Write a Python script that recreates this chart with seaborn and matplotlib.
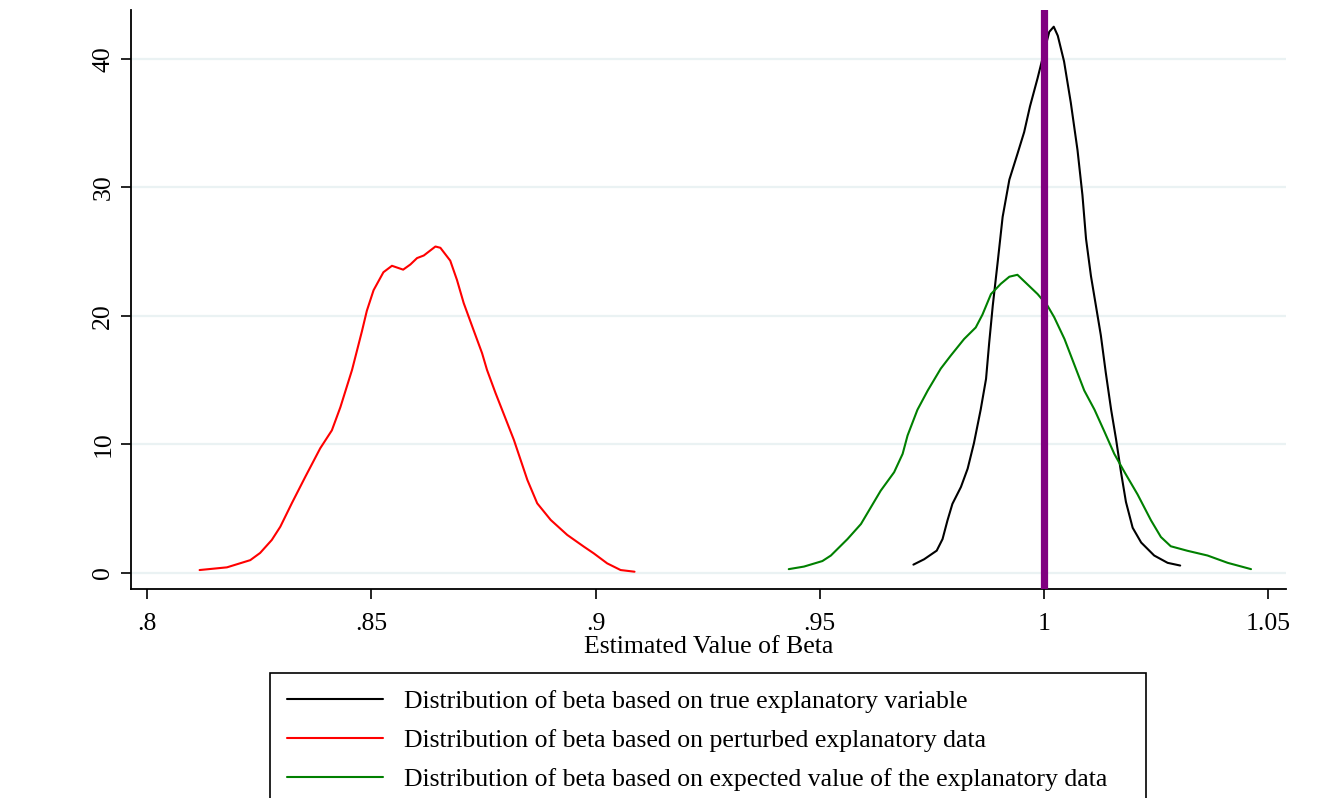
import numpy as np
import pandas as pd
import matplotlib
matplotlib.use("Agg")
import matplotlib.pyplot as plt
import seaborn as sns

sns.set_theme(style="white")
plt.rcParams['font.family'] = ['Liberation Serif', 'DejaVu Serif']

# Kernel density curves
true_x = [0.9709, 0.9733, 0.9761, 0.9774, 0.9785, 0.9796, 0.9815, 0.9830, 0.9844, 0.9859,
          0.9871, 0.9878, 0.9886, 0.9897, 0.9908, 0.9923, 0.9941, 0.9956, 0.9969, 0.9986,
          1.0001, 1.0012, 1.0022, 1.0031, 1.0045, 1.0060, 1.0075, 1.0086, 1.0094, 1.0105,
          1.0116, 1.0127, 1.0138, 1.0150, 1.0161, 1.0172, 1.0183, 1.0198, 1.0217, 1.0246,
          1.0276, 1.0304]
true_y = [0.65, 1.07, 1.74, 2.64, 4.09, 5.38, 6.69, 8.12, 10.1, 12.7,
          15.1, 17.9, 20.8, 24.2, 27.7, 30.6, 32.6, 34.3, 36.3, 38.5,
          40.6, 42.1, 42.5, 41.8, 39.8, 36.6, 32.9, 29.4, 26.0, 23.1,
          20.8, 18.5, 15.6, 12.7, 10.4, 7.84, 5.53, 3.52, 2.37, 1.36,
          0.79, 0.58]

pert_x = [0.8117, 0.8178, 0.8230, 0.8252, 0.8278, 0.8297, 0.8323, 0.8353, 0.8386, 0.8412,
          0.8431, 0.8457, 0.8479, 0.8490, 0.8505, 0.8527, 0.8546, 0.8571, 0.8587, 0.8602,
          0.8617, 0.8643, 0.8654, 0.8676, 0.8691, 0.8706, 0.8728, 0.8747, 0.8758, 0.8777,
          0.8795, 0.8818, 0.8848, 0.8870, 0.8900, 0.8937, 0.8974, 0.8996, 0.9026, 0.9056,
          0.9087]
pert_y = [0.23, 0.44, 1.0, 1.56, 2.57, 3.60, 5.45, 7.5, 9.7, 11.1,
          12.9, 15.8, 18.8, 20.4, 22.0, 23.4, 23.9, 23.6, 24.0, 24.5,
          24.7, 25.4, 25.3, 24.3, 22.8, 21.0, 18.9, 17.1, 15.8, 14.0,
          12.4, 10.35, 7.24, 5.42, 4.13, 2.96, 2.05, 1.53, 0.75, 0.23,
          0.10]

exp_x = [0.9431, 0.9465, 0.9506, 0.9525, 0.9562, 0.9592, 0.9636, 0.9666, 0.9685, 0.9696,
         0.9718, 0.9741, 0.9770, 0.9792, 0.9822, 0.9848, 0.9863, 0.9882, 0.9904, 0.9923,
         0.9941, 0.9956, 0.9986, 1.0008, 1.0023, 1.0046, 1.0068, 1.0090, 1.0113, 1.0135,
         1.0157, 1.0180, 1.0209, 1.0239, 1.0261, 1.0283, 1.0320, 1.0365, 1.0410, 1.0462]
exp_y = [0.30, 0.50, 0.93, 1.36, 2.64, 3.81, 6.40, 7.84, 9.27, 10.7,
         12.7, 14.2, 15.9, 16.9, 18.2, 19.1, 20.1, 21.7, 22.5, 23.05,
         23.2, 22.7, 21.7, 20.8, 19.9, 18.2, 16.2, 14.2, 12.7, 11.0,
         9.27, 7.84, 6.11, 4.09, 2.80, 2.08, 1.73, 1.36, 0.79, 0.30]

labels = ["Distribution of beta based on true explanatory variable",
          "Distribution of beta based on perturbed explanatory data",
          "Distribution of beta based on expected value of the explanatory data"]
colors = ["black", "#FF0000", "#008000"]
true_beta = 1.0

x_ticks = [0.8, 0.85, 0.9, 0.95, 1.0, 1.05]
x_tick_labels = [".8", ".85", ".9", ".95", "1", "1.05"]
y_ticks = [0, 10, 20, 30, 40]

df = pd.concat([
    pd.DataFrame({"beta": true_x, "density": true_y, "series": labels[0]}),
    pd.DataFrame({"beta": pert_x, "density": pert_y, "series": labels[1]}),
    pd.DataFrame({"beta": exp_x, "density": exp_y, "series": labels[2]}),
], ignore_index=True)

fig = plt.figure(figsize=(13.19, 7.98), dpi=100)
ax = fig.add_axes([131 / 1319, 209 / 798, 1155 / 1319, 579 / 798])

ax.yaxis.grid(True, color="#EAF2F3", linewidth=1.6)
ax.set_axisbelow(True)

sns.lineplot(data=df, x="beta", y="density", hue="series", hue_order=labels,
             palette=colors, estimator=None, sort=False, linewidth=1.5, ax=ax)
handles, labs = ax.get_legend_handles_labels()
ax.get_legend().remove()

ax.axvline(true_beta, color="#800080", linewidth=5.2, zorder=3)

ax.set_xlim(0.7964, 1.054)
ax.set_ylim(-1.245, 43.8)
ax.set_xticks(x_ticks)
ax.set_xticklabels(x_tick_labels)
ax.set_yticks(y_ticks)
ax.tick_params(axis="both", bottom=True, left=True, direction="out", length=7,
               width=1.2, color="black", labelsize=18.5, labelcolor="black")
ax.tick_params(axis="x", pad=10)
ax.tick_params(axis="y", pad=5)
for lab in ax.get_yticklabels():
    lab.set_rotation(90)
    lab.set_va("center")

ax.set_xlabel("Estimated Value of Beta", fontsize=18.5, labelpad=1, color="black")
ax.set_ylabel("")

for side in ["top", "right"]:
    ax.spines[side].set_visible(False)
for side in ["left", "bottom"]:
    ax.spines[side].set_color("black")
    ax.spines[side].set_linewidth(1.3)

leg = fig.legend(handles, labs, loc="upper left",
                 bbox_to_anchor=(270 / 1319, 0, 876 / 1319, 125 / 798),
                 mode="expand", borderaxespad=0,
                 fontsize=18.5, frameon=True, fancybox=False, framealpha=1,
                 handlelength=3.75, handletextpad=0.8, labelspacing=0.62,
                 borderpad=0.65, ncol=1)
leg.get_frame().set_edgecolor("black")
leg.get_frame().set_linewidth(1.2)
for line in leg.get_lines():
    line.set_linewidth(1.5)
for txt in leg.get_texts():
    txt.set_color("black")

fig.savefig("out.png", dpi=100)
